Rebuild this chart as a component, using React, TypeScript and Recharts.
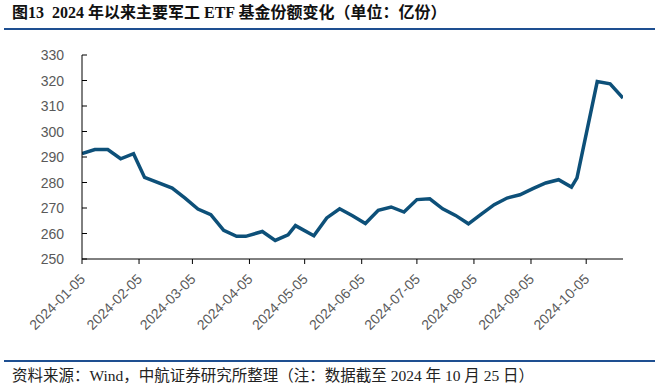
import { LineChart, Line, XAxis, YAxis } from 'recharts';

// weekly closing dates (last trading day of each week)
const dates = [
  '2024-01-05', '2024-01-12', '2024-01-19', '2024-01-26', '2024-02-02', '2024-02-08',
  '2024-02-23', '2024-03-01', '2024-03-08', '2024-03-15', '2024-03-22', '2024-03-29',
  '2024-04-03', '2024-04-12', '2024-04-19', '2024-04-26', '2024-04-30', '2024-05-10',
  '2024-05-17', '2024-05-24', '2024-05-31', '2024-06-07', '2024-06-14', '2024-06-21',
  '2024-06-28', '2024-07-05', '2024-07-12', '2024-07-19', '2024-07-26', '2024-08-02',
  '2024-08-09', '2024-08-16', '2024-08-23', '2024-08-30', '2024-09-06', '2024-09-13',
  '2024-09-20', '2024-09-27', '2024-09-30', '2024-10-11', '2024-10-18', '2024-10-25',
];

// fund shares, 亿份
const shares = [
  291.3, 292.9, 292.9, 289.3, 291.3, 282.0,
  277.8, 273.9, 269.6, 267.4, 261.2, 258.9,
  258.9, 260.8, 257.3, 259.5, 263.1, 259.1,
  266.1, 269.7, 267.0, 263.9, 269.1, 270.4,
  268.4, 273.3, 273.6, 269.7, 267.1, 263.8,
  267.6, 271.3, 273.9, 275.2, 277.6, 279.8,
  281.1, 278.2, 281.8, 319.6, 318.7, 313.1,
];

const xTickLabels = [
  '2024-01-05', '2024-02-05', '2024-03-05', '2024-04-05', '2024-05-05',
  '2024-06-05', '2024-07-05', '2024-08-05', '2024-09-05', '2024-10-05',
];

const yTicks = [250, 260, 270, 280, 290, 300, 310, 320, 330];

const TITLE = '图13  2024 年以来主要军工 ETF 基金份额变化（单位：亿份）';
const SOURCE = '资料来源：Wind，中航证券研究所整理（注：数据截至 2024 年 10 月 25 日）';

const toTs = (s: string) => {
  const [y, m, d] = s.split('-').map(Number);
  return Date.UTC(y, m - 1, d);
};

const data = dates.map((d, i) => ({ t: toTs(d), v: shares[i] }));
const xTicks = xTickLabels.map(toTs);
const labelByTs: Record<number, string> = {};
xTickLabels.forEach((l) => (labelByTs[toTs(l)] = l));

const TICK_FONT = "'Liberation Sans Narrow', 'Liberation Sans', Arial, sans-serif";
const Y_TICK_MARGIN = 18;

function XTick({ x, y, payload }: any) {
  return (
    <text
      x={0}
      y={0}
      textAnchor="end"
      fill="#595959"
      fontSize={14}
      fontFamily={TICK_FONT}
      transform={`translate(${x + 4},${y + 14}) rotate(-45)`}
    >
      {labelByTs[payload.value]}
    </text>
  );
}

function YTick({ x, y, payload }: any) {
  const ax = x + Y_TICK_MARGIN;
  return (
    <g>
      <line x1={ax} x2={ax + 5} y1={y} y2={y} stroke="#000" strokeWidth={1} />
      <text x={x} y={y} dy="0.36em" textAnchor="end" fill="#595959" fontSize={14} fontFamily={TICK_FONT}>
        {payload.value}
      </text>
    </g>
  );
}

export default function App() {
  return (
    <div style={{ position: 'absolute', left: 0, top: 0, width: 660, height: 388, background: '#fff' }}>
      <div
        style={{
          position: 'absolute',
          left: 12,
          top: 3,
          fontSize: 16,
          lineHeight: '20px',
          fontWeight: 700,
          color: '#111',
          fontFamily: "'Liberation Serif', 'Noto Sans CJK SC', serif",
          whiteSpace: 'pre',
        }}
      >
        {TITLE}
      </div>
      <div style={{ position: 'absolute', left: 4, top: 28, width: 651, height: 2, background: '#1e4f91' }} />
      <LineChart
        width={660}
        height={388}
        data={data}
        margin={{ top: 55, right: 37, bottom: 99, left: 22 }}
      >
        <XAxis
          dataKey="t"
          type="number"
          scale="linear"
          domain={[toTs('2024-01-05'), toTs('2024-10-25')]}
          ticks={xTicks}
          tick={<XTick />}
          height={30}
          tickSize={5}
          tickMargin={2}
          axisLine={{ stroke: '#000', strokeWidth: 1 }}
          tickLine={{ stroke: '#000', strokeWidth: 1 }}
          allowDataOverflow
          interval={0}
        />
        <YAxis
          width={60}
          domain={[250, 330]}
          ticks={yTicks}
          tick={<YTick />}
          tickSize={0}
          tickMargin={Y_TICK_MARGIN}
          tickLine={false}
          axisLine={{ stroke: '#000', strokeWidth: 1 }}
          interval={0}
        />
        <Line
          type="linear"
          dataKey="v"
          stroke="#0d5079"
          strokeWidth={3.5}
          dot={false}
          isAnimationActive={false}
        />
      </LineChart>
      <div style={{ position: 'absolute', left: 4, top: 360, width: 651, height: 2, background: '#1e4f91' }} />
      <div
        style={{
          position: 'absolute',
          left: 12,
          top: 366,
          fontSize: 15.5,
          lineHeight: '20px',
          color: '#222',
          fontFamily: "'Liberation Serif', 'Noto Sans CJK SC', serif",
          whiteSpace: 'pre',
        }}
      >
        {SOURCE}
      </div>
    </div>
  );
}
